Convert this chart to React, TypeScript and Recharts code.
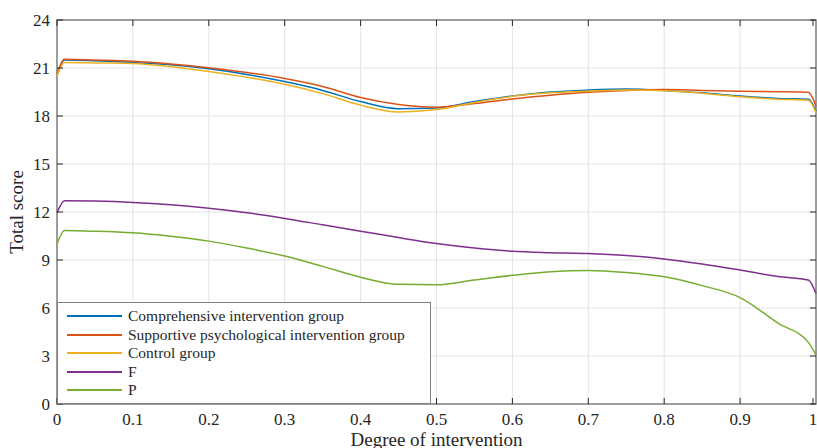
import React from 'react';
import {
  LineChart,
  Line,
  XAxis,
  YAxis,
  CartesianGrid
} from 'recharts';

// x values (degree of intervention)
const degree = [0, 0.01, 0.05, 0.1, 0.15, 0.2, 0.25, 0.3, 0.35, 0.4, 0.45, 0.5, 0.55, 0.6, 0.65, 0.7, 0.75, 0.8, 0.85, 0.9, 0.95, 0.99, 1];

const comprehensive = [20.6, 21.5, 21.45, 21.35, 21.2, 20.95, 20.6, 20.15, 19.6, 18.9, 18.45, 18.5, 18.9, 19.25, 19.5, 19.62, 19.68, 19.6, 19.45, 19.25, 19.1, 19.05, 18.3];
const supportive = [20.6, 21.55, 21.5, 21.42, 21.25, 21.02, 20.72, 20.35, 19.85, 19.15, 18.72, 18.55, 18.78, 19.07, 19.3, 19.48, 19.6, 19.65, 19.6, 19.55, 19.52, 19.48, 18.6];
const control = [20.5, 21.35, 21.32, 21.28, 21.08, 20.78, 20.42, 19.98, 19.4, 18.68, 18.25, 18.4, 18.85, 19.23, 19.45, 19.55, 19.62, 19.58, 19.42, 19.2, 19.05, 18.98, 18.2];
const fValues = [11.95, 12.7, 12.68, 12.6, 12.45, 12.23, 11.95, 11.6, 11.2, 10.8, 10.4, 10.03, 9.75, 9.55, 9.46, 9.4, 9.28, 9.07, 8.75, 8.37, 7.97, 7.75, 6.9];
const pValues = [10.0, 10.84, 10.8, 10.7, 10.48, 10.18, 9.75, 9.25, 8.6, 7.92, 7.48, 7.45, 7.75, 8.04, 8.27, 8.35, 8.22, 7.95, 7.4, 6.65, 5.05, 3.85, 3.05];

const xTicks = [0, 0.1, 0.2, 0.3, 0.4, 0.5, 0.6, 0.7, 0.8, 0.9, 1];
const yTicks = [0, 3, 6, 9, 12, 15, 18, 21, 24];

const seriesNames = [
  'Comprehensive intervention group',
  'Supportive psychological intervention group',
  'Control group',
  'F',
  'P'
];
const seriesKeys = ['comp', 'supp', 'ctrl', 'f', 'p'];
const colors = ['#0072BD', '#D95319', '#EDB120', '#7E2F8E', '#77AC30'];

const chartData = degree.map((d, i) => ({
  x: d,
  comp: comprehensive[i],
  supp: supportive[i],
  ctrl: control[i],
  f: fValues[i],
  p: pValues[i]
}));

const FONT = '"Liberation Serif", "Times New Roman", serif';
const TICK_MARGIN = 7;
const PLOT_TOP = 20;
const PLOT_BOTTOM = 404;
const PLOT_LEFT = 57;
const PLOT_RIGHT = 816;

// ticks drawn inward, like the original plot
const YTick = ({ x, y, payload }: any) => (
  <g>
    <text x={x} y={y} dy="0.35em" textAnchor="end" fontFamily={FONT} fontSize={17} fill="#262626">
      {payload.value}
    </text>
    <line x1={PLOT_LEFT} x2={PLOT_LEFT + 6} y1={y} y2={y} stroke="#262626" strokeWidth={1} />
    <line x1={PLOT_RIGHT - 6} x2={PLOT_RIGHT} y1={y} y2={y} stroke="#262626" strokeWidth={1} />
  </g>
);

const XTick = ({ x, y, payload }: any) => (
  <g>
    <text x={x} y={y} dy="0.8em" textAnchor="middle" fontFamily={FONT} fontSize={17} fill="#262626">
      {payload.value}
    </text>
    <line x1={x} x2={x} y1={PLOT_BOTTOM} y2={PLOT_BOTTOM - 6} stroke="#262626" strokeWidth={1} />
    <line x1={x} x2={x} y1={PLOT_TOP} y2={PLOT_TOP + 6} stroke="#262626" strokeWidth={1} />
  </g>
);

const LegendBox = () => (
  <div
    style={{
      position: 'absolute',
      left: PLOT_LEFT,
      top: 302,
      width: 374,
      height: PLOT_BOTTOM - 302,
      background: '#fff',
      border: '1.5px solid #808080',
      fontFamily: FONT,
      fontSize: 15.5,
      color: '#262626',
      paddingTop: 4,
      boxSizing: 'border-box'
    }}
  >
    {seriesNames.map((name, i) => (
      <div key={name} style={{ display: 'flex', alignItems: 'center', height: 18.5 }}>
        <div style={{ marginLeft: 9, width: 55, height: 2, background: colors[i] }} />
        <span style={{ marginLeft: 6, lineHeight: '18px' }}>{name}</span>
      </div>
    ))}
  </div>
);

const App = () => {
  return (
    <div style={{ position: 'absolute', left: 0, top: 0, width: 817, height: 448, background: '#fff', overflow: 'hidden' }}>
      <LineChart
        width={817}
        height={448}
        data={chartData}
        margin={{ top: PLOT_TOP, right: 1, left: 0, bottom: 0 }}
      >
        <CartesianGrid stroke="#e3e3e3" strokeWidth={1} />
        <XAxis
          dataKey="x"
          type="number"
          domain={[0, 1]}
          ticks={xTicks}
          tickSize={0}
          tickMargin={TICK_MARGIN}
          tick={<XTick />}
          axisLine={false}
          height={44}
          label={{
            value: 'Degree of intervention',
            position: 'insideBottom',
            offset: 2,
            style: { fontFamily: FONT, fontSize: 19, fill: '#262626' }
          }}
        />
        <YAxis
          type="number"
          domain={[0, 24]}
          ticks={yTicks}
          tickSize={0}
          tickMargin={TICK_MARGIN}
          tick={<YTick />}
          axisLine={false}
          width={PLOT_LEFT}
          label={{
            value: 'Total score',
            angle: -90,
            position: 'insideLeft',
            offset: 16,
            style: { fontFamily: FONT, fontSize: 19, fill: '#262626', textAnchor: 'middle' }
          }}
        />
        {seriesKeys.map((k, i) => (
          <Line
            key={k}
            type="monotone"
            dataKey={k}
            name={seriesNames[i]}
            stroke={colors[i]}
            strokeWidth={1.5}
            dot={false}
            isAnimationActive={false}
          />
        ))}
        <rect
          x={PLOT_LEFT}
          y={PLOT_TOP}
          width={PLOT_RIGHT - PLOT_LEFT}
          height={PLOT_BOTTOM - PLOT_TOP}
          fill="none"
          stroke="#808080"
          strokeWidth={1.5}
        />
      </LineChart>
      <LegendBox />
    </div>
  );
};

export default App;
